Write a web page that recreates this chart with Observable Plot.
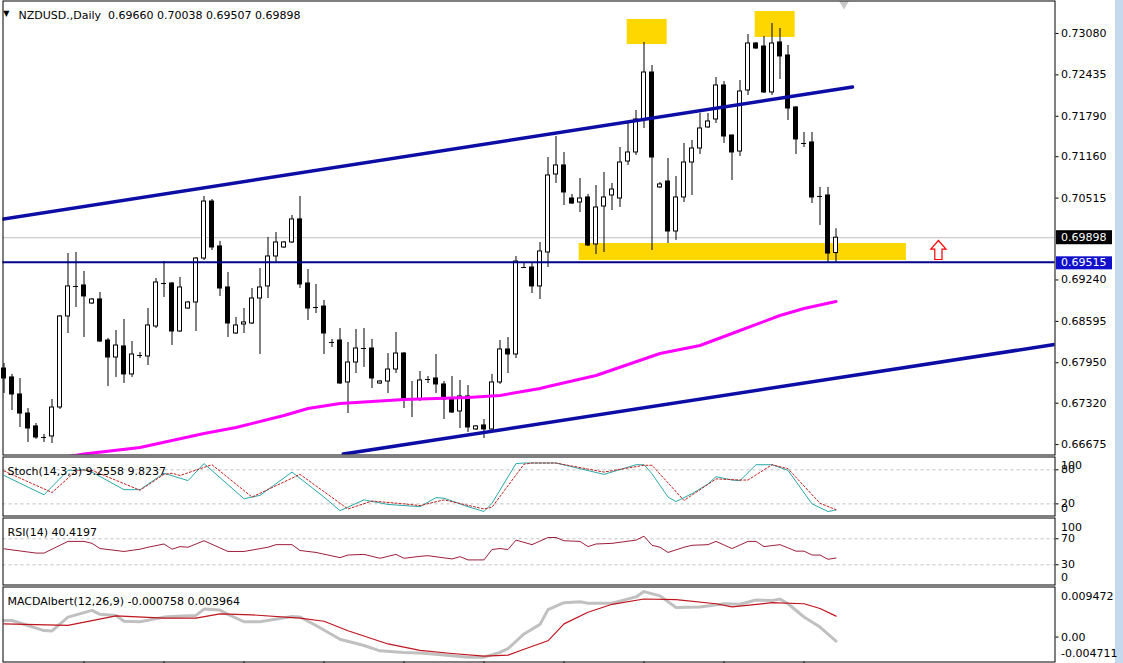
<!DOCTYPE html>
<html><head><meta charset="utf-8">
<script src="https://cdn.jsdelivr.net/npm/d3@7"></script>
<script src="https://cdn.jsdelivr.net/npm/@observablehq/plot@0.6"></script>
<style>
body{margin:0;background:#fff;}
#wrap{position:relative;width:1123px;height:663px;overflow:hidden;background:linear-gradient(to right,#fff 1115px,#C5D9EE 1115px);}
#wrap svg{position:absolute;left:0;overflow:visible;}
</style></head><body><div id="wrap"></div>
<script>
// ---------- data ----------
const symbolLabel = "NZDUSD.,Daily";
const open  = [0.67860,0.67721,0.67456,0.67159,0.66958,0.66786,0.66802,0.67253,0.68671,0.69139,0.69154,0.68873,0.68936,0.68297,0.68032,0.68204,0.67768,0.68063,0.68048,0.68515,0.69185,0.69185,0.68437,0.68795,0.68889,0.69574,0.70462,0.69762,0.69123,0.68406,0.68546,0.68562,0.68951,0.69139,0.69606,0.69746,0.69824,0.70183,0.69185,0.68811,0.68826,0.68266,0.68297,0.67643,0.67954,0.68172,0.68172,0.67627,0.67658,0.67845,0.68094,0.67378,0.67378,0.67689,0.67705,0.67612,0.67393,0.67191,0.67425,0.66911,0.66973,0.66911,0.67643,0.68157,0.68079,0.69434,0.69434,0.69139,0.69668,0.70883,0.71024,0.70509,0.70447,0.70525,0.69793,0.70384,0.70556,0.70509,0.71085,0.71226,0.71740,0.72472,0.70681,0.70774,0.69995,0.70525,0.71070,0.71288,0.71616,0.71740,0.72270,0.71491,0.71241,0.72192,0.72924,0.72877,0.72161,0.72940,0.72737,0.71927,0.71366,0.71382,0.70541,0.70556,0.69660];
const high  = [0.67938,0.67768,0.67705,0.67237,0.67004,0.66833,0.67378,0.68687,0.69652,0.69668,0.69372,0.68951,0.69045,0.68328,0.68453,0.68624,0.68281,0.68110,0.68795,0.69263,0.69527,0.69201,0.69279,0.68905,0.69590,0.70541,0.70493,0.69840,0.69357,0.68656,0.68795,0.69107,0.69418,0.69902,0.69980,0.69840,0.70244,0.70541,0.69403,0.69170,0.68920,0.68313,0.68484,0.68266,0.68469,0.68484,0.68313,0.67674,0.68094,0.68422,0.68110,0.67658,0.67814,0.67736,0.68079,0.67658,0.67736,0.67674,0.67596,0.66973,0.67066,0.67768,0.68297,0.68344,0.69606,0.69496,0.69496,0.69824,0.71148,0.71475,0.71226,0.70572,0.70821,0.70572,0.70712,0.70915,0.70743,0.71304,0.71678,0.71880,0.72940,0.72581,0.70759,0.71132,0.70852,0.71366,0.71413,0.71834,0.71834,0.72394,0.72332,0.71491,0.72348,0.73064,0.72940,0.73033,0.73236,0.73158,0.72893,0.71942,0.71537,0.71537,0.70681,0.70681,0.70038];
const low   = [0.67471,0.67206,0.66942,0.66708,0.66755,0.66708,0.66692,0.67222,0.68406,0.68811,0.68344,0.68858,0.68266,0.67581,0.67721,0.67627,0.67721,0.68016,0.67907,0.68484,0.68967,0.68219,0.68422,0.68780,0.68437,0.69543,0.69699,0.68983,0.68344,0.68391,0.68406,0.68546,0.68079,0.68951,0.69512,0.69730,0.69808,0.69107,0.68609,0.68717,0.68079,0.68188,0.67612,0.67159,0.67783,0.67876,0.67549,0.67612,0.67471,0.67783,0.67237,0.67097,0.67347,0.67627,0.67471,0.67066,0.67159,0.66926,0.66864,0.66895,0.66770,0.66895,0.67612,0.67783,0.68016,0.69418,0.69029,0.68936,0.69434,0.70743,0.70400,0.70416,0.70291,0.69762,0.69637,0.69668,0.70322,0.70369,0.71024,0.71179,0.71600,0.69699,0.70665,0.69808,0.69855,0.70447,0.70556,0.71195,0.71600,0.71678,0.71366,0.70790,0.71164,0.72114,0.72830,0.72145,0.72114,0.72363,0.71725,0.71195,0.71304,0.70431,0.70089,0.69512,0.69507];
const close = [0.67705,0.67456,0.67159,0.66926,0.66786,0.66786,0.67253,0.68671,0.69139,0.69139,0.68983,0.68936,0.68281,0.68032,0.68219,0.67768,0.68079,0.68063,0.68531,0.69201,0.69185,0.68437,0.69123,0.68889,0.69574,0.70462,0.69746,0.69107,0.68562,0.68531,0.68578,0.68951,0.69123,0.69606,0.69824,0.69824,0.70183,0.69170,0.68795,0.68811,0.68406,0.68266,0.67627,0.67954,0.68172,0.68172,0.67705,0.67658,0.67845,0.68094,0.67378,0.67378,0.67674,0.67689,0.67612,0.67378,0.67175,0.67425,0.66942,0.66958,0.66911,0.67643,0.68157,0.68079,0.69527,0.69434,0.69139,0.69684,0.70868,0.71024,0.70603,0.70431,0.70509,0.69777,0.70369,0.70525,0.70649,0.71070,0.71226,0.71740,0.72472,0.71148,0.70728,0.69995,0.70525,0.71070,0.71288,0.71600,0.71709,0.72270,0.71475,0.71226,0.72176,0.72924,0.72846,0.72161,0.72924,0.72722,0.71911,0.71429,0.71366,0.70525,0.70541,0.69652,0.69898];

const priceTicks = [0.73080,0.72435,0.71790,0.71160,0.70515,0.69240,0.68595,0.67950,0.67320,0.66675];
const supportLevel = 0.69515;
const bidPrice = 0.69898;
// moving average [candle index, price]
const maLine = [[7,0.66470],[10,0.66528],[17,0.66630],[25,0.66848],[29,0.66941],[35,0.67128],[38,0.67237],[42,0.67315],[50,0.67378],[58,0.67409],[62,0.67440],[67,0.67549],[68,0.67580],[74,0.67751],[82,0.68094],[87,0.68219],[92,0.68453],[97,0.68686],[100,0.68795],[104,0.68904]];
const upperTrend = [[-0.44,0.70183],[106.06,0.72246]];
const lowerTrend = [[42.4,0.66527],[131.3,0.68234]];
const zoneI1 = [77.9, 93.9, 71.9];
const zoneI2 = [82.9, 98.9, 112.8];
const zoneLow  = [0.72909, 0.73018, 0.69543];
const zoneHigh = [0.73298, 0.73422, 0.69808];
const arrowAt = [116.8, 0.69707];
const shiftIndex = 105;

const stochK = [[0,70],[5,36],[8,79],[10,80],[11,76],[15,45],[17,45],[20,74],[23,61],[25,91],[30,29],[32,35],[36,76],[40,32],[42,8],[45,27],[48,19],[52,15],[54,31],[55,30],[58,15],[60,6.5],[61,21],[64,91],[65,92],[69,92],[72,82],[75,72],[79,89],[80,89],[81,73],[83,32],[84,24],[86,38],[88,55],[89,68],[91,62],[92,61],[94,89],[96,89],[98,79],[101,20],[103,6.5],[104,9.26]];
const stochD = [[0,78],[6,40],[9,78],[10,80],[11,79],[17,44],[20,72],[21,74],[22,70],[26,89],[31,32],[37,72],[43,11],[46,25],[50,20],[52,17],[55,27],[60,11],[61,14],[65,90],[66,92],[69,92],[75,76],[80,88],[81,88],[85,26],[89,64],[92,62],[93,62],[96,89],[98,82],[102,21],[104,9.82]];
const stochLevels = [80, 20];
const stochLast = [9.2558, 9.8237];

const rsiLine = [[0,54.6],[4,48],[5,48],[8,66],[10,66],[11,63],[12,55],[15,50.5],[17,54],[18,57],[20,62],[21,54],[22,58],[23,57],[25,67],[28,50.5],[30,50.5],[33,57],[34,61],[36,61],[37,52],[39,49],[42,41],[43,45],[45,46],[47,40],[49,46],[50,40],[52,43],[53,44],[56,39],[57,42.5],[58,37.5],[60,37.5],[61,53.5],[62,55],[63,53.5],[64,68],[66,61],[68,72],[69,72],[70,67],[72,66],[73,58],[74,62],[76,63],[79,68],[80,74],[81,60],[82,57],[83,49],[85,57],[86,60],[88,61],[89,66],[91,55],[93,66],[94,66],[95,58],[97,61],[99,51],[100,51],[101,45],[102,45],[103,38.5],[104,40.42]];
const rsiLevels = [70, 30];
const rsiLast = 40.4197;

const macdMain = [[0,0.00314],[1,0.00314],[5,0.00123],[6,0.00117],[8,0.00378],[11,0.00506],[12,0.0043],[14,0.0041],[15,0.0030],[17,0.0029],[20,0.00378],[21,0.0039],[24,0.0041],[25,0.0053],[27,0.0051],[28,0.0043],[30,0.0029],[32,0.0029],[36,0.0039],[37,0.0038],[39,0.0022],[42,-0.0004],[45,-0.0016],[47,-0.0026],[50,-0.0029],[52,-0.0030],[55,-0.0034],[58,-0.0038],[60,-0.0038],[62,-0.0029],[63,-0.0022],[65,0.0006],[67,0.0024],[68,0.0052],[70,0.0065],[72,0.0067],[73,0.0064],[76,0.0064],[79,0.0076],[80,0.0086],[82,0.0078],[84,0.0056],[87,0.0057],[90,0.0063],[92,0.0062],[94,0.0070],[96,0.0069],[97,0.0072],[98,0.0063],[100,0.0038],[102,0.0019],[104,-0.000758]];
const macdSignal = [[0,0.0025],[8,0.0022],[14,0.0040],[20,0.0036],[24,0.0036],[27,0.0044],[31,0.0042],[37,0.0036],[40,0.0030],[43,0.0012],[48,-0.0013],[52,-0.0025],[56,-0.0031],[60,-0.0036],[63,-0.0034],[65,-0.0023],[68,-0.0007],[70,0.0025],[73,0.0047],[76,0.0062],[80,0.0072],[84,0.0071],[89,0.0063],[91,0.0057],[96,0.0065],[100,0.0063],[102,0.0054],[104,0.003964]];
const macdRange = [-0.004711, 0.009472];
const macdLast = [-0.000758, 0.003964];
const timeTicks = [10,20,30,40,50,60,70,80,90,100];

// ---------- layout ----------
const W = 1123, mL = 2.5, mR = 68.5;
const xDomain = [-0.125, 131.375];
const FONT = "DejaVu Sans";
const FS = 11;
const wrap = document.getElementById("wrap");
const pairs = a => a.map(([i, v]) => ({i, v}));
const candles = open.map((o, i) => ({i, o, h: high[i], l: low[i], c: close[i]}));
const upBodies = candles.filter(d => d.c > d.o);
const downBodies = candles.filter(d => d.c < d.o);
const dojis = candles.filter(d => d.c === d.o);
const zones = zoneI1.map((a, k) => ({i1: a, i2: zoneI2[k], p1: zoneLow[k], p2: zoneHigh[k]}));
const f5 = d3.format(".5f");
const baseStyle = {fontFamily: FONT, fontSize: FS + "px", background: "transparent", overflow: "visible"};

const arrowSymbol = {draw(ctx, size) {
  const r = Math.sqrt(size / Math.PI);
  ctx.moveTo(0, -r); ctx.lineTo(0.8 * r, -0.1 * r); ctx.lineTo(0.38 * r, -0.1 * r);
  ctx.lineTo(0.38 * r, r); ctx.lineTo(-0.38 * r, r); ctx.lineTo(-0.38 * r, -0.1 * r);
  ctx.lineTo(-0.8 * r, -0.1 * r); ctx.closePath();
}};

function place(svg, top) { svg.style.top = top + "px"; wrap.appendChild(svg); }

function sideLabel(value, dy, fmt) {
  return Plot.text([value], {y: d => d, text: d => fmt(d), frameAnchor: "right", dx: 6, dy, textAnchor: "start", fontSize: FS});
}

// main price panel
const main = Plot.plot({
  width: W, height: 455, marginLeft: mL, marginRight: mR, marginTop: 0.5, marginBottom: 0.5,
  x: {domain: xDomain, axis: null},
  y: {domain: [0.66513, 0.73586], axis: null},
  style: baseStyle,
  marks: [
    Plot.rect(zones, {x1: "i1", x2: "i2", y1: "p1", y2: "p2", fill: "#FFD700", clip: true}),
    Plot.ruleY([bidPrice], {stroke: "#C0C0C0"}),
    Plot.ruleX(candles, {x: "i", y1: "l", y2: "h", stroke: "black", strokeWidth: 1}),
    Plot.rect(upBodies, {x1: d => d.i - 0.25, x2: d => d.i + 0.25, y1: "o", y2: "c", fill: "white", stroke: "black"}),
    Plot.rect(downBodies, {x1: d => d.i - 0.25, x2: d => d.i + 0.25, y1: "o", y2: "c", fill: "black", stroke: "black"}),
    Plot.ruleY(dojis, {y: "o", x1: d => d.i - 0.3125, x2: d => d.i + 0.3125, stroke: "black"}),
    Plot.line(pairs(maLine), {x: "i", y: "v", stroke: "#FF00FF", strokeWidth: 3, clip: true}),
    Plot.ruleY([supportLevel], {stroke: "#00008C", strokeWidth: 2}),
    Plot.line(pairs(upperTrend), {x: "i", y: "v", stroke: "#0D0DA6", strokeWidth: 3.5, clip: true}),
    Plot.line(pairs(lowerTrend), {x: "i", y: "v", stroke: "#0D0DA6", strokeWidth: 3.5, clip: true}),
    Plot.dot([arrowAt], {x: d => d[0], y: d => d[1], symbol: arrowSymbol, r: 9.5, fill: "white", stroke: "#FF0000", strokeWidth: 1.2}),
    Plot.dot([shiftIndex], {x: d => d, frameAnchor: "top", dy: 3, symbol: "triangle", r: 3.6, rotate: 180, fill: "#C8C8C8", stroke: "none"}),
    Plot.frame({stroke: "black"}),
    Plot.axisY({anchor: "right", ticks: priceTicks, tickSize: 3, tickPadding: 3, tickFormat: f5, label: null, fontSize: FS}),
    Plot.rect([bidPrice], {y1: d => d, y2: d => d, insetTop: -7, insetBottom: -7, insetLeft: 1053.5, insetRight: -57.5, fill: "black"}),
    Plot.text([bidPrice], {y: d => d, text: d => f5(d), frameAnchor: "right", dx: 6, textAnchor: "start", fill: "white", fontSize: FS}),
    Plot.rect([supportLevel], {y1: d => d, y2: d => d, insetTop: -6.5, insetBottom: -6.5, insetLeft: 1053.5, insetRight: -57.5, dy: 1, fill: "#1010CC"}),
    Plot.text([supportLevel], {y: d => d, text: d => f5(d), frameAnchor: "right", dx: 6, dy: 0.5, textAnchor: "start", fill: "white", fontSize: FS}),
    Plot.text(["\u25BC"], {text: d => d, frameAnchor: "top-left", dx: 3.3, dy: 9.5, textAnchor: "middle", fontSize: 8}),
    Plot.text([`${symbolLabel}\u00A0\u00A0${f5(open[104])} ${f5(high[104])} ${f5(low[104])} ${f5(close[104])}`],
      {text: d => d, frameAnchor: "top-left", dx: 15.5, dy: 10.5, textAnchor: "start", fontSize: FS})
  ]
});
place(main, 0);

// stochastic panel
const stoch = Plot.plot({
  width: W, height: 60, marginLeft: mL, marginRight: mR, marginTop: 0.5, marginBottom: 0.5,
  x: {domain: xDomain, axis: null},
  y: {domain: [-1.4, 102.6], axis: null},
  style: baseStyle,
  marks: [
    Plot.ruleY(stochLevels, {stroke: "#C0C0C0", strokeDasharray: "3,3"}),
    Plot.line(pairs(stochK), {x: "i", y: "v", stroke: "#2AA8A8", strokeWidth: 1}),
    Plot.line(pairs(stochD), {x: "i", y: "v", stroke: "#C41E1E", strokeWidth: 1, strokeDasharray: "2,2"}),
    Plot.frame({stroke: "black"}),
    Plot.axisY({anchor: "right", ticks: stochLevels, tickSize: 3, tickPadding: 3, tickFormat: d => d, label: null, fontSize: FS}),
    sideLabel(100, 6.5, d => d),
    sideLabel(0, -6.7, d => d),
    Plot.text([`Stoch(14,3,3) ${stochLast[0]} ${stochLast[1]}`], {text: d => d, frameAnchor: "top-left", dx: 4.5, dy: 10.2, textAnchor: "start", fontSize: FS})
  ]
});
place(stoch, 456);

// RSI panel
const rsi = Plot.plot({
  width: W, height: 68, marginLeft: mL, marginRight: mR, marginTop: 0.5, marginBottom: 0.5,
  x: {domain: xDomain, axis: null},
  y: {domain: [-1.1, 102.0], axis: null},
  style: baseStyle,
  marks: [
    Plot.ruleY(rsiLevels, {stroke: "#C0C0C0", strokeDasharray: "3,3"}),
    Plot.line(pairs(rsiLine), {x: "i", y: "v", stroke: "#9C1F3C", strokeWidth: 1}),
    Plot.frame({stroke: "black"}),
    Plot.axisY({anchor: "right", ticks: rsiLevels, tickSize: 3, tickPadding: 3, tickFormat: d => d, label: null, fontSize: FS}),
    sideLabel(100, 8.5, d => d),
    sideLabel(0, -7, d => d),
    Plot.text([`RSI(14) ${rsiLast}`], {text: d => d, frameAnchor: "top-left", dx: 4.5, dy: 10.5, textAnchor: "start", fontSize: FS})
  ]
});
place(rsi, 517);

// MACD panel
const macd = Plot.plot({
  width: W, height: 77, marginLeft: mL, marginRight: mR, marginTop: 0.5, marginBottom: 1.5,
  x: {domain: xDomain, axis: null},
  y: {domain: macdRange, axis: null},
  style: baseStyle,
  marks: [
    Plot.line(pairs(macdMain), {x: "i", y: "v", stroke: "#C0C0C0", strokeWidth: 3}),
    Plot.line(pairs(macdSignal), {x: "i", y: "v", stroke: "#C0141E", strokeWidth: 1.2}),
    Plot.frame({stroke: "black"}),
    Plot.axisY({anchor: "right", ticks: [0], tickSize: 3, tickPadding: 3, tickFormat: d3.format(".2f"), label: null, fontSize: FS}),
    sideLabel(macdRange[1], 9.3, d => d.toString()),
    sideLabel(macdRange[0], -8.7, d => d.toString()),
    Plot.axisX({anchor: "bottom", ticks: timeTicks, tickSize: 3, tickFormat: () => "", label: null}),
    Plot.text([`MACDAlbert(12,26,9) ${macdLast[0]} ${macdLast[1]}`], {text: d => d, frameAnchor: "top-left", dx: 4.5, dy: 10.5, textAnchor: "start", fontSize: FS})
  ]
});
place(macd, 586);
</script>
</body></html>
